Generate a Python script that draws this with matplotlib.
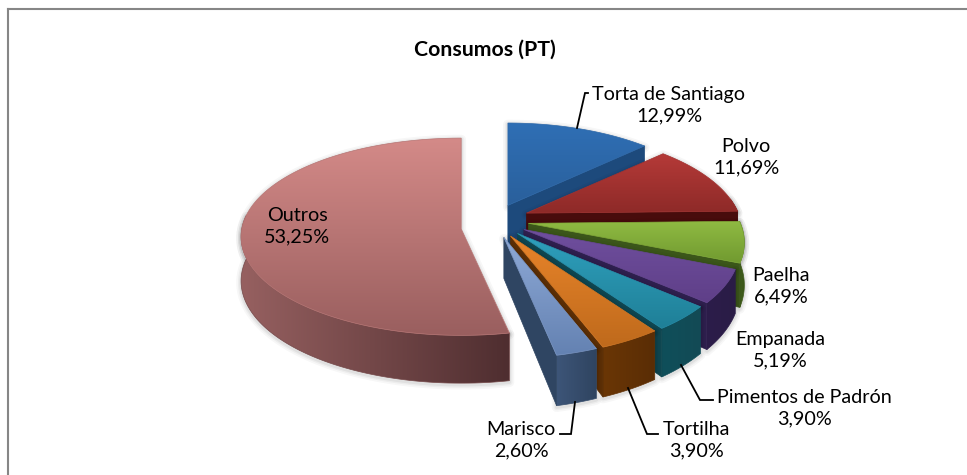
import numpy as np
import matplotlib
matplotlib.use("Agg")
import matplotlib.pyplot as plt
from matplotlib.colors import to_rgb
from matplotlib.patches import Polygon

# ---- data ----
names = ["Torta de Santiago", "Polvo", "Paelha", "Empanada",
         "Pimentos de Padrón", "Tortilha", "Marisco", "Outros"]
shares = [12.99, 11.69, 6.49, 5.19, 3.90, 3.90, 2.60, 53.25]
title = "Consumos (PT)"

# ---- style (top gradient start/end, wall gradient start/end, cut face) ----
top_from = ["#2f6fb5", "#b53a38", "#8fba42", "#6f4f9e", "#2fa0bd", "#e8842a", "#8ea9d6", "#d48a88"]
top_to = ["#2a609c", "#8e2a28", "#719a30", "#5f3f88", "#1f8098", "#bf6a1c", "#6482b2", "#9a5f5f"]
wall_from = ["#1f4a78", "#571313", "#3f5c1b", "#2c1d4a", "#0f4f5a", "#6a3606", "#3d5578", "#966060"]
wall_to = ["#1f4a78", "#4a0d0d", "#3a5518", "#2a1c46", "#134a55", "#5a2d05", "#2f4460", "#4f2e30"]
cut_col = ["#1d4a7c", "#480c0c", "#3b561a", "#2e1f4e", "#0f4650", "#5c2f06", "#2f4562", "#5a3436"]
label_xy = [(669, 105), (746, 157), (781, 286), (780, 350), (804, 408),
            (696, 440), (521, 440), (297, 226)]
leaders = [[(577, 128), (585, 93), (588, 93)],
           [(681, 365), (700, 400), (713, 400)],
           [(628, 388), (647, 434), (658, 434)],
           [(575, 402), (571, 434), (560, 434)]]

CX, CY = 494, 220
RX, RY = 212, 98
E = 0.165
EY = 1.12
PERSP = [0.19] * 7 + [0.08]
NUDGE_X = [0] * 7 + [2]
NUDGE_Y = [2] + [0] * 6 + [7]
SCALE = [1.0] * 7 + [1.035]
THICK = [41] * 7 + [44]

plt.rcParams["font.family"] = ["Lato", "DejaVu Sans"]
fig = plt.figure(figsize=(9.67, 4.75), dpi=100)
ax = fig.add_axes([0, 0, 1, 1])
wedges, _ = ax.pie(shares, explode=[E] * len(shares), startangle=90,
                   counterclock=False, radius=1.0)
for w in wedges:
    w.set_visible(False)
ax.set_aspect("auto")
ax.set_xlim(0, 967)
ax.set_ylim(475, 0)
ax.set_autoscale_on(False)
ax.set_axis_off()


def grad_fill(verts, c0, c1, horizontal, z):
    verts = np.asarray(verts)
    x0, y0 = verts.min(axis=0)
    x1, y1 = verts.max(axis=0)
    t = np.linspace(0, 1, 64)[:, None]
    col = (1 - t) * np.array(to_rgb(c0)) + t * np.array(to_rgb(c1))
    img = col[None, :, :] if horizontal else col[:, None, :]
    im = ax.imshow(img, extent=[x0, x1, y1, y0], aspect="auto", zorder=z,
                   interpolation="bilinear")
    clip = Polygon(verts, closed=True, transform=ax.transData)
    im.set_clip_path(clip)
    mid = tuple((np.array(to_rgb(c0)) + np.array(to_rgb(c1))) / 2)
    ax.add_patch(Polygon(verts, closed=True, fill=False, edgecolor=mid, lw=0.5, zorder=z))


def shadow(verts, z):
    for lw, a in [(7, 0.03), (4.5, 0.04), (2.5, 0.05)]:
        ax.add_patch(Polygon(verts + np.array([0, 1.5]), closed=True, fill=False,
                             edgecolor=(0, 0, 0, a), lw=lw, zorder=z, joinstyle="round"))


order = [7, 0, 1, 2, 3, 4, 5, 6]
for rank, i in enumerate(order):
    w = wedges[i]
    k = PERSP[i]
    ax0 = CX + w.center[0] * RX + NUDGE_X[i]
    ay0 = CY - w.center[1] * RY * EY + NUDGE_Y[i]
    th = np.radians(np.linspace(w.theta1, w.theta2, 160))
    X, Y = np.cos(th), np.sin(th)
    s = 1 / (1 + k * Y)
    rim_x = ax0 + RX * SCALE[i] * X * s
    rim_y = ay0 - RY * Y * s
    low_y = rim_y + THICK[i] * s
    rim = np.column_stack([rim_x, rim_y])
    low = np.column_stack([rim_x, low_y])
    z = 2 + rank * 0.1
    top = np.vstack([[ax0, ay0], rim])
    # outer wall, only the side that faces the viewer
    front = Y < 0.15
    wall = np.vstack([rim[front], low[front][::-1]])
    shadow(np.vstack([top]), z - 0.05)
    if front.sum() > 2:
        shadow(wall, z - 0.05)
        grad_fill(wall, wall_from[i], wall_to[i], True, z)
    if i != 7:
        # radial cut face on the clockwise end of the slice (lowest math angle)
        cut = np.array([[ax0, ay0], rim[0], low[0], [ax0, ay0 + THICK[i]]])
        ax.add_patch(Polygon(cut, closed=True, facecolor=cut_col[i],
                             edgecolor=cut_col[i], lw=0.5, zorder=z + 0.01))
    grad_fill(top, top_from[i], top_to[i], False, z + 0.02)

for name, val, (x, y) in zip(names, shares, label_xy):
    txt = f"{name}\n{val:.2f}%".replace(".", ",")
    ax.text(x, y, txt, ha="center", va="center", fontsize=14.2, color="black",
            linespacing=1.35, zorder=10)

for pts in leaders:
    p = np.array(pts)
    ax.plot(p[:, 0], p[:, 1], color="black", lw=1.3, zorder=9, solid_joinstyle="miter")

ax.text(485, 50, title, ha="center", va="center", fontsize=15.3, fontweight="bold", zorder=10)

ax.plot([7.5, 7.5], [475, 8.5], color="#868686", lw=1.5, zorder=1)
ax.plot([7.5, 967], [8.5, 8.5], color="#868686", lw=1.5, zorder=1)

fig.savefig("out.png", dpi=100)
